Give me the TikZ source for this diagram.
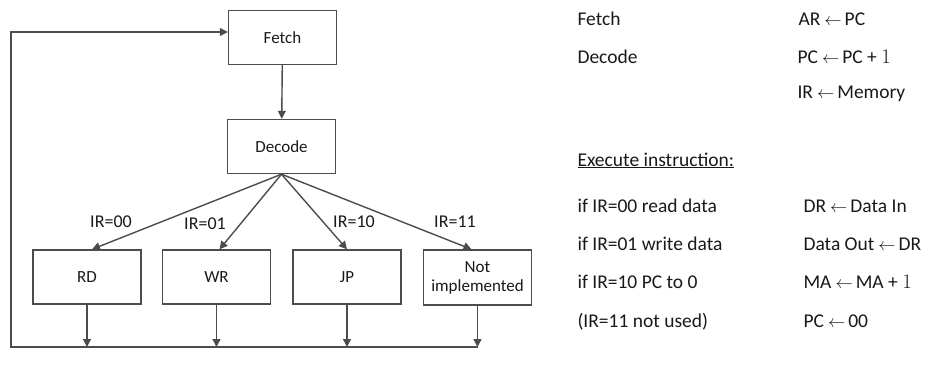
\documentclass[tikz,border=0pt]{standalone}
\usepackage{fontspec}
\setmainfont{Carlito}
\usetikzlibrary{arrows.meta}
\newcommand{\assign}{\hspace{4pt}{\fontsize{16}{16}\selectfont$\leftarrow$}\hspace{3pt}}

\begin{document}
\begin{tikzpicture}[
  x=1pt, y=-1pt,
  every node/.style={font=\fontsize{17}{19}\selectfont, text=black!90},
  stage/.style={draw=black!70, line width=1.4pt, minimum width=108pt, minimum height=54pt, align=center},
  flow/.style={draw=black!70, line width=1.4pt, -{Triangle[length=8pt,width=8pt]}},
  cond/.style={font=\fontsize{18}{20}\selectfont},
  opline/.style={anchor=base west, font=\fontsize{19.5}{22}\selectfont}
]
\useasboundingbox (0,0) rectangle (925,370);

\node[stage] (fetch) at (282.5,37.5) {Fetch};
\node[stage] (decode) at (281.5,146.5) {Decode};
\node[stage] (rd) at (87,277) {RD};
\node[stage] (wr) at (216.5,277) {WR};
\node[stage] (jp) at (347,277) {JP};
\node[stage, minimum height=55pt] (ni) at (477.5,277.5) {Not\\implemented};

\draw[flow] (fetch) -- (decode);
\draw[flow] (decode.south) -- ([xshift=5pt]rd.north);
\draw[flow] (decode.south) -- ([xshift=3pt]wr.north);
\draw[flow] (decode.south) -- (jp.north);
\draw[flow] (decode.south) -- ([xshift=-6pt]ni.north);

\node[cond] (c00) at (111,222) {IR=00};
\node[cond] (c01) at (205,224) {IR=01};
\node[cond] (c10) at (354,222) {IR=10};
\node[cond] (c11) at (455,222) {IR=11};

\coordinate (corner) at (11,347);
\foreach \s in {rd,wr,jp,ni}
  \draw[flow] (\s.south) -- (\s.south |- corner);
\draw[flow] (ni.south |- corner) -- (corner) |- ([yshift=5.5pt]fetch.west);

\node[opline] (tf) at (574,25) {Fetch};
\node[opline] (td) at (574,63) {Decode};
\node[opline] (tx) at (574,166) {\underline{Execute instruction:}};
\node[opline] (t0) at (574,212) {if IR=00 read data};
\node[opline] (t1) at (574,250) {if IR=01 write data};
\node[opline] (t2) at (574,288) {if IR=10 PC to 0};
\node[opline] (t3) at (574,327) {(IR=11 not used)};

\node[opline] (rf) at (795,25) {AR\assign PC};
\node[opline] (rd1) at (794,63) {PC\assign PC + $1$};
\node[opline] (rd2) at (794,98) {IR\assign Memory};
\node[opline] (r0) at (800,212) {DR\assign Data In};
\node[opline] (r1) at (800,250) {Data Out\assign DR};
\node[opline] (r2) at (800,288) {MA\assign MA + $1$};
\node[opline] (r3) at (800,327) {PC\assign 00};
\end{tikzpicture}
\end{document}
